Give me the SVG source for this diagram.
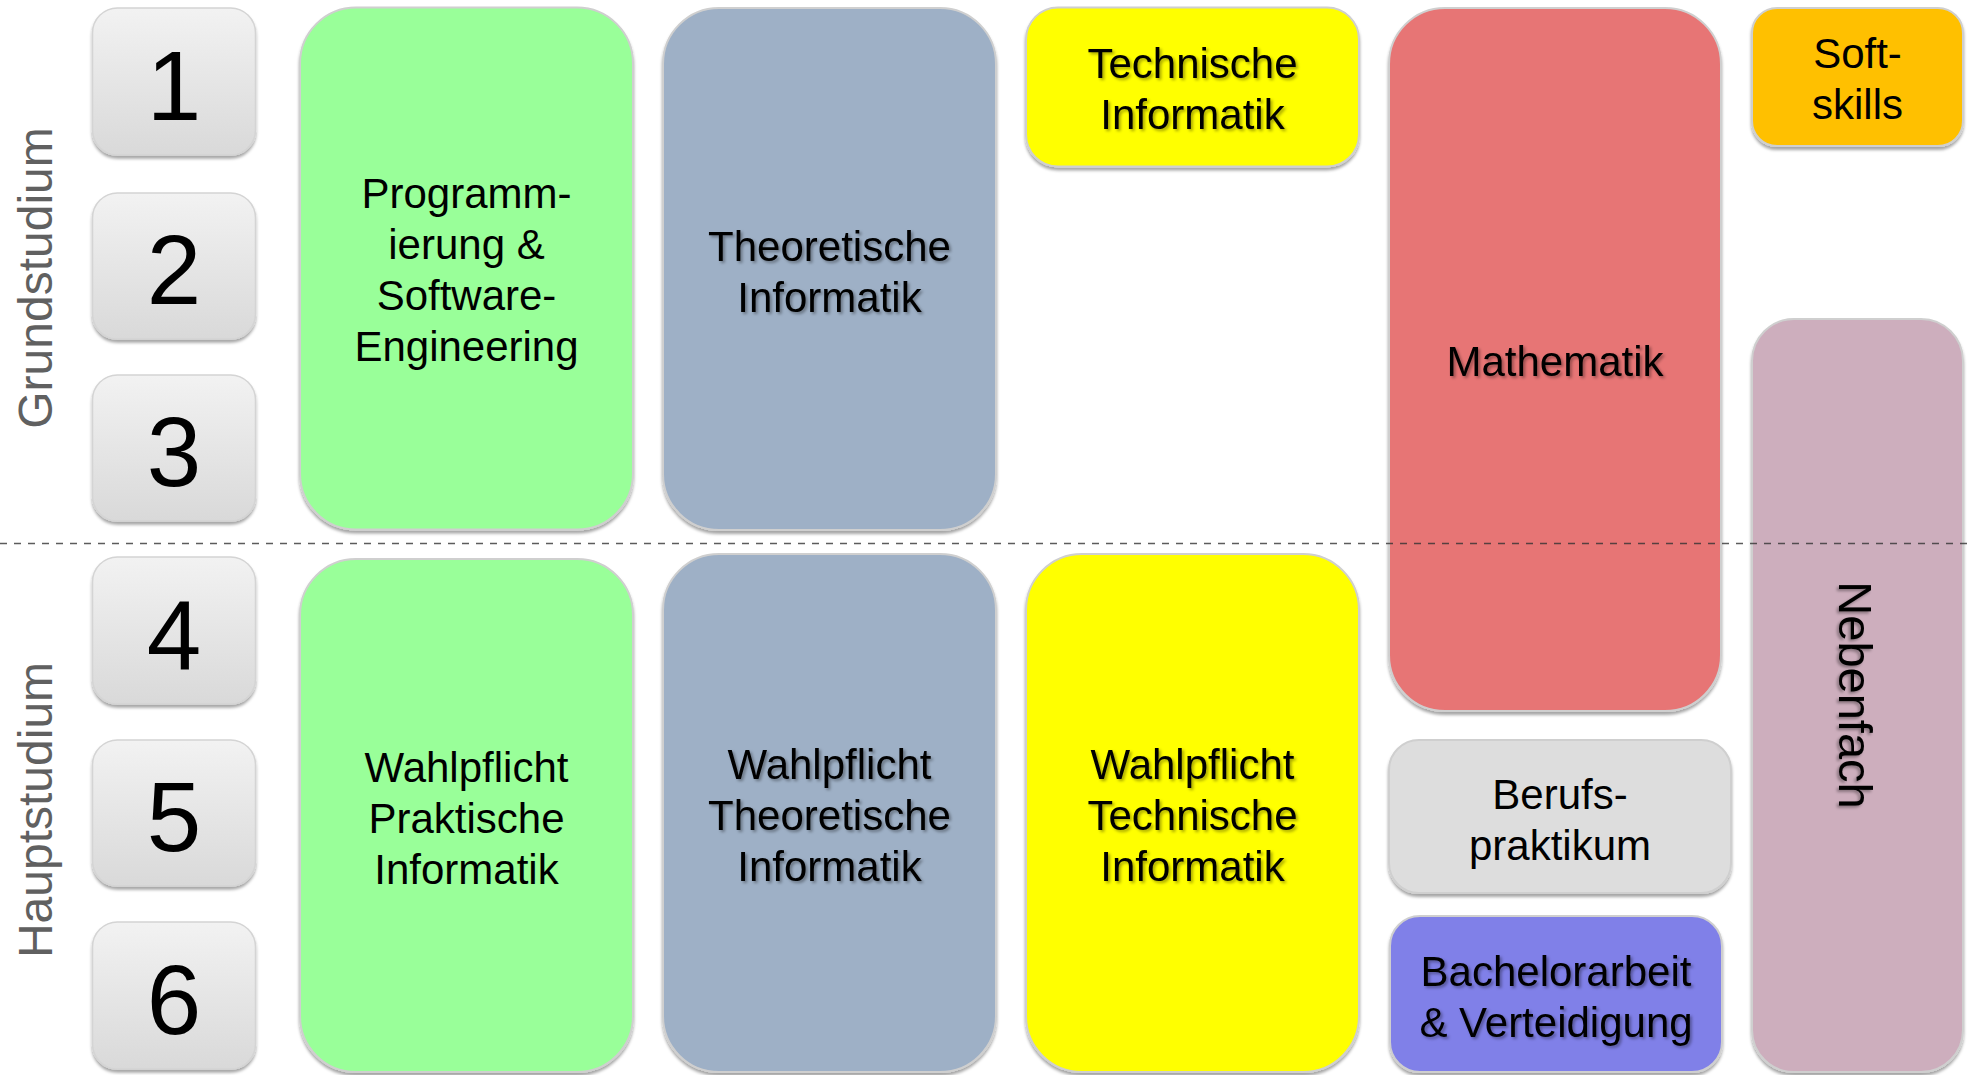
<svg xmlns="http://www.w3.org/2000/svg" width="1968" height="1075" viewBox="0 0 1968 1075">
<style>
.lbl{font-family:"Liberation Sans",Arial,sans-serif;font-size:42px;fill:#000;text-anchor:middle}
.num{font-family:"Liberation Sans",Arial,sans-serif;font-size:98px;fill:#000;text-anchor:middle}
.phase{font-family:"Liberation Sans",Arial,sans-serif;font-size:48px;fill:#606060;text-anchor:middle}
.box{stroke:#cfcfcf;stroke-width:2;filter:url(#ds)}
.nbox{fill:url(#ng);stroke:#d4d4d4;stroke-width:1.5;filter:url(#ds)}
.ts{filter:url(#ts)}
</style>
<defs>
<linearGradient id="ng" x1="0" y1="0" x2="0" y2="1">
<stop offset="0" stop-color="#f2f2f2"/>
<stop offset="1" stop-color="#d9d9d9"/>
</linearGradient>
<filter id="ds" x="-5%" y="-5%" width="110%" height="115%">
<feDropShadow dx="0" dy="3" stdDeviation="1.5" flood-color="#000" flood-opacity="0.35"/>
</filter>
<filter id="ts" x="-10%" y="-20%" width="120%" height="150%">
<feDropShadow dx="2" dy="2" stdDeviation="1.5" flood-color="#000" flood-opacity="0.35"/>
</filter>
</defs>

<g id="phase-grund"><text class="phase" transform="translate(51.5,278) rotate(-90)">Grundstudium</text></g>
<g id="phase-haupt"><text class="phase" transform="translate(51.5,810) rotate(-90)">Hauptstudium</text></g>

<g id="sem1"><rect class="nbox" x="92.5" y="8" width="163" height="147" rx="25"/><text class="num" x="174" y="120">1</text></g>
<g id="sem2"><rect class="nbox" x="92.5" y="193" width="163" height="146" rx="25"/><text class="num" x="174" y="304">2</text></g>
<g id="sem3"><rect class="nbox" x="92.5" y="375" width="163" height="146" rx="25"/><text class="num" x="174" y="486">3</text></g>
<g id="sem4"><rect class="nbox" x="92.5" y="557" width="163" height="147" rx="25"/><text class="num" x="174" y="669">4</text></g>
<g id="sem5"><rect class="nbox" x="92.5" y="740" width="163" height="146" rx="25"/><text class="num" x="174" y="851">5</text></g>
<g id="sem6"><rect class="nbox" x="92.5" y="922" width="163" height="147" rx="25"/><text class="num" x="174" y="1034">6</text></g>

<g id="prog"><rect class="box" x="300" y="7.5" width="333" height="522" rx="56" fill="#99ff99"/>
<text class="lbl" x="466.5"><tspan x="466.5" y="208">Programm-</tspan><tspan x="466.5" y="259">ierung &amp;</tspan><tspan x="466.5" y="310">Software-</tspan><tspan x="466.5" y="361">Engineering</tspan></text></g>

<g id="theo"><rect class="box" x="663" y="8" width="333" height="522" rx="56" fill="#9eb0c6"/>
<text class="lbl ts"><tspan x="829.5" y="261">Theoretische</tspan><tspan x="829.5" y="312">Informatik</tspan></text></g>

<g id="tech"><rect class="box" x="1026" y="7.5" width="333" height="159" rx="32" fill="#ffff00"/>
<text class="lbl ts"><tspan x="1192.5" y="78">Technische</tspan><tspan x="1192.5" y="129">Informatik</tspan></text></g>

<g id="mathe"><rect class="box" x="1389" y="8" width="332" height="703" rx="56" fill="#e77575"/>
<text class="lbl ts" x="1555" y="376">Mathematik</text></g>

<g id="soft"><rect class="box" x="1752" y="8" width="211" height="138" rx="25" fill="#ffc000"/>
<text class="lbl"><tspan x="1857.5" y="68">Soft-</tspan><tspan x="1857.5" y="119">skills</tspan></text></g>

<g id="neben"><rect class="box" x="1752" y="319" width="211" height="753" rx="42" fill="#cdaebd"/>
<text class="lbl ts" style="font-size:47px" transform="translate(1839,695) rotate(90)">Nebenfach</text></g>

<g id="wp-prak"><rect class="box" x="300" y="559" width="333" height="513" rx="56" fill="#99ff99"/>
<text class="lbl"><tspan x="466.5" y="782">Wahlpflicht</tspan><tspan x="466.5" y="833">Praktische</tspan><tspan x="466.5" y="884">Informatik</tspan></text></g>

<g id="wp-theo"><rect class="box" x="663" y="554" width="333" height="518" rx="56" fill="#9eb0c6"/>
<text class="lbl ts"><tspan x="829.5" y="779">Wahlpflicht</tspan><tspan x="829.5" y="830">Theoretische</tspan><tspan x="829.5" y="881">Informatik</tspan></text></g>

<g id="wp-tech"><rect class="box" x="1026" y="554" width="333" height="518" rx="56" fill="#ffff00"/>
<text class="lbl ts"><tspan x="1192.5" y="779">Wahlpflicht</tspan><tspan x="1192.5" y="830">Technische</tspan><tspan x="1192.5" y="881">Informatik</tspan></text></g>

<g id="beruf"><rect class="box" x="1389" y="740" width="342" height="153" rx="30" fill="#dddddd"/>
<text class="lbl"><tspan x="1560" y="809">Berufs-</tspan><tspan x="1560" y="860">praktikum</tspan></text></g>

<g id="bachelor"><rect class="box" x="1390" y="916" width="332" height="156" rx="30" fill="#8080e8"/>
<text class="lbl ts"><tspan x="1556" y="986">Bachelorarbeit</tspan><tspan x="1556" y="1037">&amp; Verteidigung</tspan></text></g>

<g id="connectors">
<line x1="0" y1="543.5" x2="1968" y2="543.5" stroke="#333" stroke-opacity="0.8" stroke-width="1.5" stroke-dasharray="7,7"/>
</g>
</svg>
